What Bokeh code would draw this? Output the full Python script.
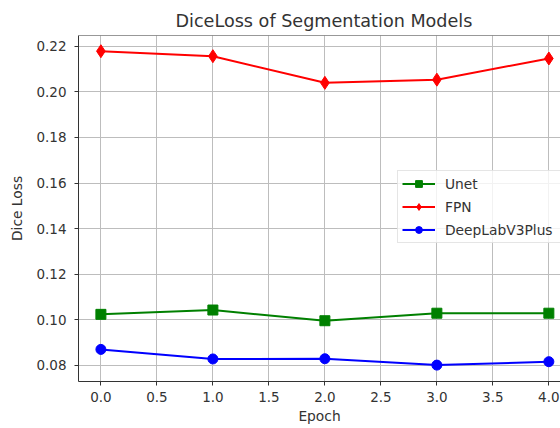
from bokeh.plotting import figure
from bokeh.models import Range1d, NumeralTickFormatter, Span
from bokeh.embed import file_html
from bokeh.resources import INLINE

epochs = [0, 1, 2, 3, 4]
unet = [0.1023, 0.1042, 0.0995, 0.1028, 0.1028]
fpn = [0.2179, 0.2157, 0.2040, 0.2054, 0.2147]
deeplab = [0.0869, 0.0827, 0.0828, 0.0800, 0.0815]
x_ticks = [0.0, 0.5, 1.0, 1.5, 2.0, 2.5, 3.0, 3.5, 4.0]
y_ticks = [0.08, 0.10, 0.12, 0.14, 0.16, 0.18, 0.20, 0.22]

FONT = "DejaVu Sans"
TXT = "#333333"

p = figure(width=560, height=428, output_backend="svg", toolbar_location=None,
           x_range=Range1d(-0.2, 4.104), y_range=Range1d(0.0728, 0.2248),
           min_border_left=78, min_border_right=0, min_border_top=35, min_border_bottom=47,
           background_fill_color="white", border_fill_color="white")
p.outline_line_color = None

p.title.text = "DiceLoss of Segmentation Models"
p.title.text_font = FONT
p.title.text_font_size = "17.6px"
p.title.text_font_style = "normal"
p.title.text_color = TXT
p.title.align = "left"
p.title.offset = 97

for ax in (p.xaxis, p.yaxis):
    ax.axis_line_color = TXT
    ax.major_tick_line_color = TXT
    ax.major_tick_out = 4
    ax.major_tick_in = 0
    ax.minor_tick_line_color = None
    ax.major_label_text_font = FONT
    ax.major_label_text_font_size = "13.5px"
    ax.major_label_text_color = TXT
    ax.axis_label_text_font = FONT
    ax.axis_label_text_font_size = "13.8px"
    ax.axis_label_text_font_style = "normal"
    ax.axis_label_text_color = TXT

p.xaxis.ticker = x_ticks
p.yaxis.ticker = y_ticks
p.xaxis.formatter = NumeralTickFormatter(format="0.0")
p.yaxis.formatter = NumeralTickFormatter(format="0.00")
p.xaxis.axis_label = "Epoch"
p.yaxis.axis_label = "Dice Loss"
p.xaxis.major_label_standoff = 6
p.yaxis.major_label_standoff = 8
p.xaxis.axis_label_standoff = 3
p.yaxis.axis_label_standoff = 8

p.xgrid.ticker = x_ticks
p.ygrid.ticker = y_ticks
for g in (p.xgrid, p.ygrid):
    g.grid_line_color = "#bdbdbd"
    g.grid_line_width = 1

p.add_layout(Span(location=0.2248, dimension="width", line_color=TXT, line_width=1))

series = [("Unet", unet, "#008000", "square", 10),
          ("FPN", fpn, "#ff0000", "diamond", 13),
          ("DeepLabV3Plus", deeplab, "#0000ff", "circle", 10)]
for name, vals, col, mk, sz in series:
    p.line(epochs, vals, line_color=col, line_width=2, legend_label=name)
    p.scatter(epochs, vals, marker=mk, size=sz, fill_color=col, line_color=col,
              legend_label=name)

lg = p.legend[0]
lg.location = (319, 138)
lg.label_text_font = FONT
lg.label_text_font_size = "13.8px"
lg.label_text_color = TXT
lg.glyph_width = 33
lg.glyph_height = 17
lg.label_height = 17
lg.label_width = 125
lg.spacing = 6
lg.padding = 4
lg.margin = 0
lg.label_standoff = 10
lg.border_line_color = "#cccccc"
lg.border_line_width = 1
lg.background_fill_alpha = 0.8

open("out.html", "w").write(file_html(p, INLINE))
